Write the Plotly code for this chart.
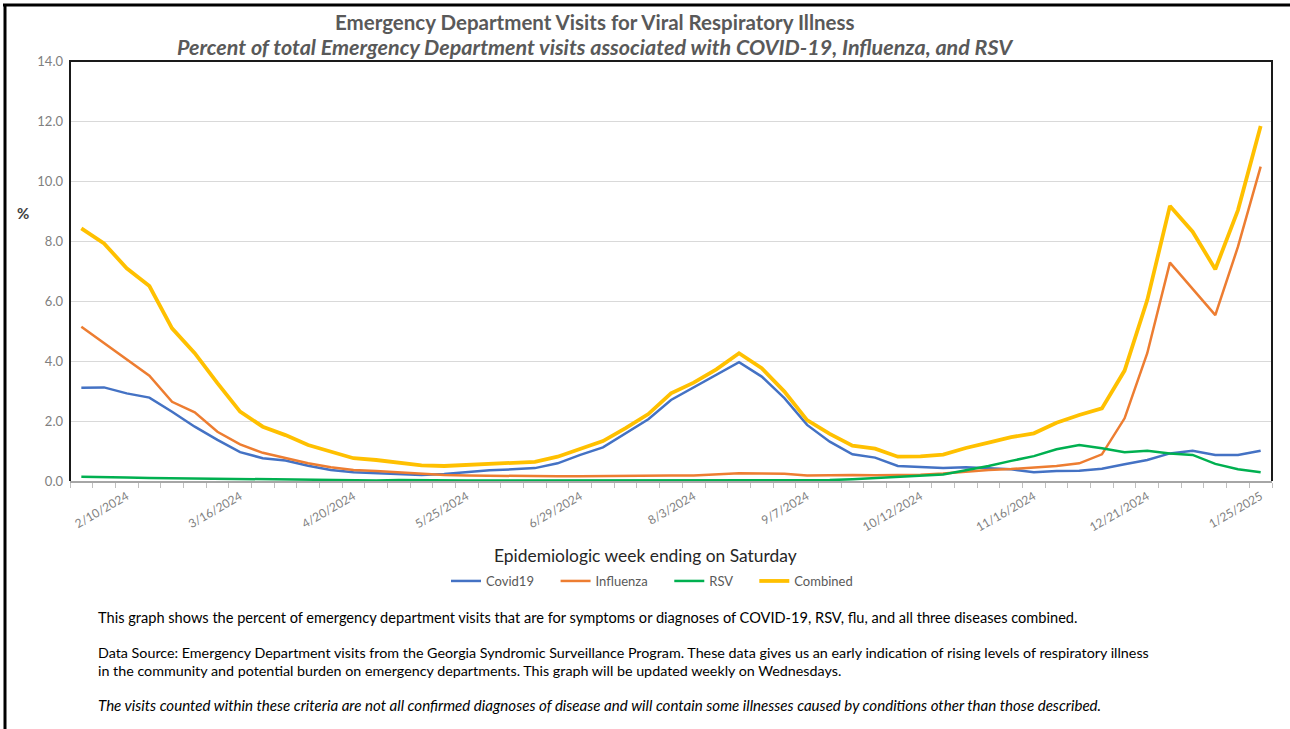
import plotly.graph_objects as go
import pandas as pd

# ---- data ----
start_week = "2024-01-27"
n_weeks = 53
weeks = pd.date_range(start_week, periods=n_weeks, freq="7D")

covid19 = [3.11, 3.12, 2.92, 2.78, 2.31, 1.81, 1.37, 0.96, 0.76, 0.68,
           0.51, 0.37, 0.29, 0.26, 0.24, 0.20, 0.23, 0.30, 0.36, 0.39,
           0.43, 0.59, 0.87, 1.12, 1.59, 2.06, 2.70, 3.12, 3.53, 3.96,
           3.48, 2.76, 1.87, 1.31, 0.89, 0.78, 0.50, 0.47, 0.43, 0.46,
           0.42, 0.39, 0.29, 0.33, 0.34, 0.41, 0.56, 0.70, 0.92, 1.01,
           0.87, 0.87, 1.01]
influenza = [5.14, 4.59, 4.06, 3.51, 2.64, 2.29, 1.64, 1.22, 0.94, 0.76,
             0.59, 0.46, 0.37, 0.33, 0.28, 0.24, 0.20, 0.18, 0.17, 0.17,
             0.16, 0.16, 0.16, 0.17, 0.16, 0.17, 0.18, 0.18, 0.22, 0.26,
             0.25, 0.24, 0.18, 0.20, 0.20, 0.19, 0.19, 0.21, 0.25, 0.31,
             0.37, 0.40, 0.44, 0.50, 0.59, 0.89, 2.09, 4.26, 7.28, 6.42,
             5.53, 7.81, 10.48]
rsv = [0.14, 0.14, 0.12, 0.10, 0.09, 0.09, 0.08, 0.08, 0.06, 0.05,
       0.04, 0.04, 0.03, 0.02, 0.03, 0.02, 0.02, 0.02, 0.02, 0.02,
       0.02, 0.02, 0.02, 0.02, 0.02, 0.02, 0.01, 0.01, 0.01, 0.01,
       0.01, 0.02, 0.02, 0.03, 0.06, 0.10, 0.13, 0.17, 0.22, 0.36,
       0.50, 0.67, 0.83, 1.06, 1.20, 1.09, 0.96, 1.01, 0.92, 0.87,
       0.57, 0.39, 0.29]
combined = [8.42, 7.92, 7.09, 6.50, 5.09, 4.26, 3.26, 2.31, 1.81, 1.53,
            1.20, 0.98, 0.76, 0.70, 0.61, 0.52, 0.50, 0.54, 0.58, 0.61,
            0.64, 0.81, 1.07, 1.33, 1.76, 2.23, 2.92, 3.28, 3.72, 4.26,
            3.76, 2.98, 2.03, 1.57, 1.18, 1.08, 0.81, 0.82, 0.88, 1.10,
            1.28, 1.46, 1.59, 1.94, 2.20, 2.42, 3.68, 6.03, 9.17, 8.31,
            7.06, 9.03, 11.83]

tick_dates = ["2024-02-10", "2024-03-16", "2024-04-20", "2024-05-25", "2024-06-29",
              "2024-08-03", "2024-09-07", "2024-10-12", "2024-11-16", "2024-12-21",
              "2025-01-25"]
tick_labels = ["2/10/2024", "3/16/2024", "4/20/2024", "5/25/2024", "6/29/2024",
               "8/3/2024", "9/7/2024", "10/12/2024", "11/16/2024", "12/21/2024",
               "1/25/2025"]

series_names = ["Covid19", "Influenza", "RSV", "Combined"]
series_values = [covid19, influenza, rsv, combined]
series_colors = ["#4472C4", "#ED7D31", "#00B050", "#FFC000"]
series_widths = [2.5, 2.5, 2.5, 3.8]

# ---- layout geometry ----
W, H = 1290, 729
L, R, T, B = 70, 1272, 61, 481


def px(xp):
    return (xp - L) / (R - L)


def py(yp):
    return (B - yp) / (B - T)


FONT = "Lato"
PAD = "&nbsp;" * 5
fig = go.Figure()
for name, vals, col, w in zip(series_names, series_values, series_colors, series_widths):
    fig.add_trace(go.Scatter(x=weeks, y=vals, mode="lines",
                             name=name + (PAD if name != series_names[-1] else ""),
                             hovertemplate=name + ": %{y:.1f}<extra></extra>",
                             line=dict(color=col, width=w)))

half_week = pd.Timedelta(days=3.5)
x_lo = weeks[0] - half_week
x_hi = weeks[-1] + half_week

fig.update_layout(
    width=W, height=H,
    margin=dict(l=L, r=W - R, t=T, b=H - B, autoexpand=False),
    paper_bgcolor="white", plot_bgcolor="white",
    font=dict(family=FONT, color="#595959"),
    showlegend=True,
    legend=dict(orientation="h", x=px(652), y=py(581), xanchor="center", yanchor="middle",
                font=dict(size=13, color="#595959", family=FONT),
                itemwidth=30, tracegroupgap=0, bgcolor="rgba(0,0,0,0)"),
    xaxis=dict(
        type="date",
        range=[x_lo, x_hi],
        tickmode="array", tickvals=tick_dates, ticktext=tick_labels,
        tickangle=-30, ticks="outside", ticklen=2, tickcolor="rgba(0,0,0,0)",
        tickfont=dict(size=12, color="#7f7f7f", family=FONT),
        showgrid=False, zeroline=False,
        showline=True, linecolor="#a6a6a6", linewidth=2,
        minor=dict(ticks="outside", ticklen=5, tickcolor="#bfbfbf", tickwidth=1,
                   tick0=x_lo, dtick=7 * 24 * 3600 * 1000, showgrid=False),
    ),
    yaxis=dict(
        range=[0, 14], dtick=2, tickformat=".1f",
        tickfont=dict(size=13, color="#7f7f7f", family=FONT),
        showgrid=True, gridcolor="#d9d9d9", gridwidth=1,
        zeroline=False, showline=False, ticks="", ticklabelstandoff=6,
    ),
)

# plot-area frame (left, top, right)
fig.add_shape(type="path", xref="paper", yref="paper",
              path="M 0 0 L 0 1 L 1 1 L 1 0",
              line=dict(color="#1a1a1a", width=2), layer="above")
# outer frame (top and left)
fig.add_shape(type="line", xref="paper", yref="paper",
              x0=px(3), x1=px(1290), y0=py(5), y1=py(5),
              line=dict(color="black", width=3))
fig.add_shape(type="line", xref="paper", yref="paper",
              x0=px(5), x1=px(5), y0=py(4), y1=py(729),
              line=dict(color="black", width=3))

# texts
ann = []
ann.append(dict(text="<b>Emergency Department Visits for Viral Respiratory Illness</b>",
                x=px(595), y=py(22), font=dict(size=20.5, color="#595959", family=FONT)))
ann.append(dict(text="<b><i>Percent of total Emergency Department visits associated with COVID-19, Influenza, and RSV</i></b>",
                x=px(595), y=py(47), font=dict(size=21.5, color="#595959", family=FONT)))
ann.append(dict(text="<b>%</b>", x=px(23), y=py(213),
                font=dict(size=15, color="#404040", family=FONT)))
ann.append(dict(text="Epidemiologic week ending on Saturday", x=px(645), y=py(555),
                font=dict(size=17.4, color="#262626", family=FONT)))
foot = [
    ("This graph shows the percent of emergency department visits that are for symptoms or diagnoses of COVID-19, RSV, flu, and all three diseases combined.", 617, False, 14.6),
    ("Data Source: Emergency Department visits from the Georgia Syndromic Surveillance Program. These data gives us an early indication of rising levels of respiratory illness", 652, False, 14.3),
    ("in the community and potential burden on emergency departments. This graph will be updated weekly on Wednesdays.", 670, False, 14.3),
    ("The visits counted within these criteria are not all confirmed diagnoses of disease and will contain some illnesses caused by conditions other than those described.", 705, True, 15.1),
]
for txt, yy, it, fs in foot:
    ann.append(dict(text=(f"<i>{txt}</i>" if it else txt), x=px(96), y=py(yy), xanchor="left",
                    font=dict(size=fs, color="#000000", family=FONT)))
for a in ann:
    a.setdefault("xanchor", "center")
    a.update(xref="paper", yref="paper", yanchor="middle", showarrow=False)
    fig.add_annotation(**a)

fig.write_html("out.html", config={"displayModeBar": False},
               post_script="document.body.style.margin='0px';")
